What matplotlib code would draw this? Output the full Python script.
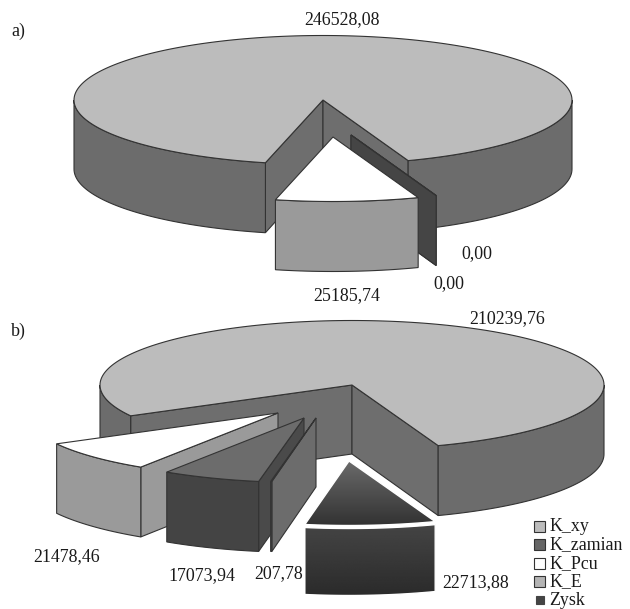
import numpy as np
import matplotlib
matplotlib.use("Agg")
import matplotlib.pyplot as plt
from matplotlib.patches import Polygon, Rectangle

plt.rcParams['font.family'] = ['Liberation Serif', 'DejaVu Serif']

# slices clockwise, the large K_xy one first
values_a = [246528.08, 0.00, 0.00, 25185.74]
labels_a = ["246528,08", "0,00", "0,00", "25185,74"]
values_b = [210239.76, 22713.88, 207.78, 17073.94, 21478.46]
labels_b = ["210239,76", "22713,88", "207,78", "17073,94", "21478,46"]
legend_names = ["K_xy", "K_zamian", "K_Pcu", "K_E", "Zysk"]

# pie shape, in pixels
RX_A, RX_B = 249, 252
RY = 64.5
CENTER_A = (323, 100)
CENTER_B = (352, 385)
END_ANGLE = -70   # where K_xy stops, degrees
EDGE = "#333333"

fig = plt.figure(figsize=(6.3, 6.09), dpi=100)
ax = fig.add_axes([0, 0, 1, 1])
ax.axis("off")

z_count = [1]


def next_z():
    z_count[0] += 1
    return z_count[0]


def point(center, rx, t, down=0.0):
    x = center[0] + rx * np.cos(np.radians(t))
    y = center[1] - RY * np.sin(np.radians(t)) + down
    return x, y


def depth(t, r=1.0):
    return 69 - 1 * r * np.sin(np.radians(t))


def poly(pts, face, edge=EDGE, lw=0.8):
    ax.add_patch(Polygon(pts, closed=True, facecolor=face, edgecolor=edge,
                         linewidth=lw, joinstyle="miter", zorder=next_z()))


def grad_poly(pts, c0, c1):
    # vertical grey ramp clipped to the polygon, white outline on top
    pts = np.array(pts)
    ramp = np.linspace(c0, c1, 128)[:, None]
    im = ax.imshow(ramp, cmap="gray", vmin=0, vmax=1, aspect="auto",
                   extent=(pts[:, 0].min(), pts[:, 0].max(), pts[:, 1].max(), pts[:, 1].min()),
                   zorder=next_z())
    clip = Polygon(pts, closed=True, transform=ax.transData)
    im.set_clip_path(clip)
    poly(pts, "none", edge="white", lw=1.0)


def arc(t0, t1):
    n = max(2, int(abs(t1 - t0) / 1.5) + 2)
    return np.linspace(t0, t1, n)


def wall(center, rx, t, face):
    outer = point(center, rx, t)
    poly([center, outer,
          (outer[0], outer[1] + depth(t)),
          (center[0], center[1] + depth(t, 0))], face)


def draw_slice(center, rx, t_start, t_end, off, top, side, inner, ramp=None):
    c = (center[0] + off[0], center[1] + off[1])
    # side walls that face the viewer
    if np.cos(np.radians(t_start)) < 0:
        wall(c, rx, t_start, inner)
    if np.cos(np.radians(t_end)) > 0:
        wall(c, rx, t_end, inner)
    # outer rim, near half of the disc only
    gap = 3 if ramp else 0
    for k in (-1, 0, 1):
        lo = max(t_end, 180 + 360 * k)
        hi = min(t_start, 360 + 360 * k)
        if hi <= lo:
            continue
        ts = arc(hi, lo)
        upper = [point(c, rx, t, down=gap) for t in ts]
        lower = [point(c, rx, t, down=depth(t)) for t in ts[::-1]]
        if ramp:
            grad_poly(upper + lower, ramp[2], ramp[3])
        else:
            poly(upper + lower, side)
    pts = [c] + [point(c, rx, t) for t in arc(t_start, t_end)]
    if ramp:
        grad_poly(pts, ramp[0], ramp[1])
    else:
        poly(pts, top)


def draw_pie(center, rx, values, offsets, tops, sides, inners, ramps):
    total = sum(values)
    angle = END_ANGLE + 360 * values[0] / total
    spans = []
    for v in values:
        spans.append((angle, angle - 360 * v / total))
        angle -= 360 * v / total
    draw_slice(center, rx, spans[0][0], spans[0][1], offsets[0], tops[0], sides[0], inners[0])
    # pulled out slices, the ones nearest the front go last
    rest = sorted(range(1, len(values)), key=lambda i: -abs(sum(spans[i]) / 2 + 90))
    for i in rest:
        draw_slice(center, rx, spans[i][0], spans[i][1], offsets[i],
                   tops[i], sides[i], inners[i], ramps[i])


draw_pie(CENTER_A, RX_A, values_a,
         offsets=[(0, 0), (28, 35), (28, 35), (10, 37)],
         tops=["#bcbcbc", "#444444", "#444444", "white"],
         sides=["#6c6c6c", "#444444", "#444444", "#9a9a9a"],
         inners=["#6e6e6e", "#454545", "#454545", "#9a9a9a"],
         ramps=[None, None, None, None])

draw_pie(CENTER_B, RX_B, values_b,
         offsets=[(0, 0), (-3, 76), (-36, 33), (-48, 33), (-74, 28)],
         tops=["#bcbcbc", "#555555", "#6c6c6c", "#6c6c6c", "white"],
         sides=["#6c6c6c", "#333333", "#6c6c6c", "#444444", "#9a9a9a"],
         inners=["#6e6e6e", "#333333", "#6c6c6c", "#4a4a4a", "#9a9a9a"],
         ramps=[None, (0.42, 0.2, 0.27, 0.17), None, None, None])

# value labels
text_kw = dict(fontsize=12.9, color="#1a1a1a", va="center", ha="left")
ax.text(11, 31, "a)", **text_kw)
ax.text(11, 331, "b)", **text_kw)
for s, x, y in zip(labels_a, [304, 461, 433, 313], [20, 254, 284, 296]):
    ax.text(x, y, s, **text_kw)
for s, x, y in zip(labels_b, [469, 442, 254, 168, 33], [319, 583, 574, 576, 557]):
    ax.text(x, y, s, **text_kw)

# legend
swatches = ["#bcbcbc", "#666666", "white", "#b4b4b4", "#444444"]
for i, (name, col) in enumerate(zip(legend_names, swatches)):
    y = 526 + 18.5 * i
    size = 11 if i < 4 else 8
    ax.add_patch(Rectangle((534 + (11 - size) / 2, y - size / 2), size, size, facecolor=col,
                           edgecolor=EDGE if i < 4 else col, linewidth=0.8, zorder=next_z()))
    ax.text(549, y + 0.5, name, fontsize=12.9, color="#1a1a1a", va="center", ha="left", zorder=next_z())

ax.set_xlim(0, 630)
ax.set_ylim(609, 0)
fig.savefig("out.png", dpi=100)
